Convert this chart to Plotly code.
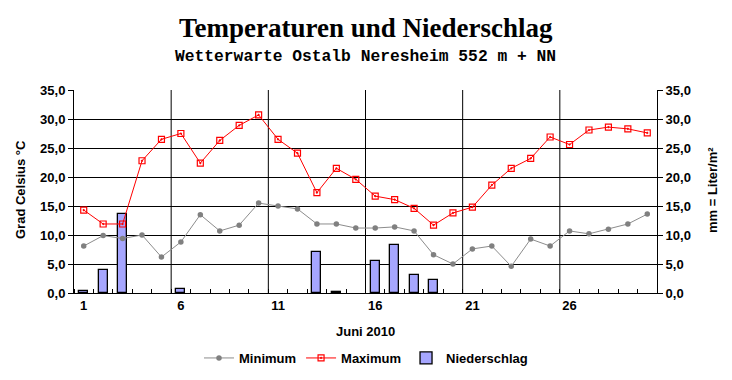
import plotly.graph_objects as go

days = list(range(1, 31))
t_min = [8.1, 9.9, 9.4, 10.0, 6.2, 8.8, 13.5, 10.7, 11.7, 15.5,
         15.0, 14.5, 11.9, 11.9, 11.2, 11.2, 11.4, 10.7, 6.6, 5.0,
         7.6, 8.1, 4.6, 9.3, 8.1, 10.7, 10.2, 11.0, 11.9, 13.6]
t_max = [14.3, 11.9, 11.9, 22.8, 26.5, 27.5, 22.4, 26.3, 28.9, 30.7,
         26.5, 24.1, 17.3, 21.5, 19.6, 16.7, 16.1, 14.6, 11.7, 13.8,
         14.8, 18.6, 21.5, 23.2, 26.9, 25.6, 28.1, 28.6, 28.3, 27.6]
rain = [0.4, 4.0, 13.6, None, None, 0.7, None, None, None, None,
        None, None, 7.1, 0.2, None, 5.5, 8.3, 3.1, 2.2, None,
        None, None, None, None, None, None, None, None, None, None]
x_ticks = [1, 6, 11, 16, 21, 26]
y_ticks = [0, 5, 10, 15, 20, 25, 30, 35]

# The page body has an 8px default margin, so the figure is 8px smaller
OFF = 8
W, H = 732 - OFF, 380 - OFF
PLOT_LEFT, PLOT_RIGHT = 74 - OFF, 657 - OFF
PLOT_TOP, PLOT_BOTTOM = 90 - OFF, 293 - OFF
PW = PLOT_RIGHT - PLOT_LEFT
PH = PLOT_BOTTOM - PLOT_TOP

tick_font = dict(family="Liberation Sans", size=13, color="black")


def py(pixel_y):
    return (PLOT_BOTTOM - (pixel_y - OFF)) / PH


def px(pixel_x):
    return ((pixel_x - OFF) - PLOT_LEFT) / PW


fig = go.Figure()
fig.add_trace(go.Bar(
    x=days, y=rain, name="<b>Niederschlag</b>", yaxis="y", width=0.46,
    marker=dict(color="white", line=dict(color="black", width=1.3),
                pattern=dict(shape=".", fgcolor="#0000ff", bgcolor="white",
                             size=2, solidity=0.7)),
    legendrank=3,
))
fig.add_trace(go.Scatter(
    x=days, y=t_min, name="<b>Minimum</b>", yaxis="y2", mode="lines+markers",
    line=dict(color="#8c8c8c", width=1),
    marker=dict(symbol="circle", size=5.5, color="#808080"),
    legendrank=1,
))
fig.add_trace(go.Scatter(
    x=days, y=t_max, name="<b>Maximum</b>", yaxis="y2", mode="lines+markers",
    line=dict(color="#ff0000", width=1),
    marker=dict(symbol="square-open-dot", size=6, color="#ff0000", line=dict(width=1.2)),
    legendrank=2,
))

shapes = [dict(type="line", xref="x", yref="paper", x0=v, x1=v, y0=0, y1=1,
               line=dict(color="black", width=1), layer="below")
          for v in [5.5, 10.5, 15.5, 20.5, 25.5]]

ytext = [f"<b>{v:.1f}</b>".replace(".", ",") for v in y_ticks]

fig.update_layout(
    width=W, height=H,
    margin=dict(l=PLOT_LEFT, r=W - PLOT_RIGHT, t=PLOT_TOP, b=H - PLOT_BOTTOM, pad=0,
                autoexpand=False),
    paper_bgcolor="white", plot_bgcolor="white",
    showlegend=True,
    bargap=0,
    xaxis=dict(range=[0.5, 30.5], tickmode="array", tickvals=x_ticks,
               ticktext=[f"<b>{v}</b>" for v in x_ticks],
               ticks="", showgrid=False, zeroline=False, automargin=False,
               showline=True, linecolor="black", linewidth=1,
               tickfont=tick_font,
               minor=dict(tickmode="array", tickvals=[0.5 + i for i in range(31)],
                          ticks="inside", ticklen=4, tickcolor="black", showgrid=False)),
    yaxis=dict(range=[0, 35], tickmode="array", tickvals=y_ticks, ticktext=ytext,
               side="right", ticks="outside", ticklen=5, tickcolor="black",
               showgrid=True, gridcolor="black", gridwidth=1, zeroline=False,
               automargin=False,
               showline=True, linecolor="black", linewidth=1, tickfont=tick_font),
    yaxis2=dict(range=[0, 35], tickmode="array", tickvals=y_ticks, ticktext=ytext,
                side="left", overlaying="y", ticks="outside", ticklen=5, tickcolor="black",
                showgrid=False, zeroline=False, automargin=False,
                showline=True, linecolor="black", linewidth=1, tickfont=tick_font),
    legend=dict(orientation="h", x=px(366), xanchor="center", y=py(358), yanchor="middle",
                font=dict(family="Liberation Sans", size=13, color="black"),
                traceorder="normal", itemwidth=30),
    shapes=shapes,
    annotations=[
        dict(text="<b>Temperaturen und Niederschlag</b>", xref="paper", yref="paper",
             x=px(366), y=py(28), xanchor="center", yanchor="middle", showarrow=False,
             font=dict(family="Liberation Serif", size=27, color="black")),
        dict(text="<b>Wetterwarte Ostalb Neresheim 552 m + NN</b>", xref="paper", yref="paper",
             x=px(365), y=py(56), xanchor="center", yanchor="middle", showarrow=False,
             font=dict(family="Liberation Mono", size=16.3, color="black")),
        dict(text="<b>Juni 2010</b>", xref="paper", yref="paper",
             x=px(365), y=py(331), xanchor="center", yanchor="middle", showarrow=False,
             font=dict(family="Liberation Sans", size=13, color="black")),
        dict(text="<b>Grad Celsius °C</b>", xref="paper", yref="paper",
             x=px(20), y=py(190), xanchor="center", yanchor="middle", showarrow=False,
             textangle=-90, font=dict(family="Liberation Sans", size=13, color="black")),
        dict(text="<b>mm = Liter/m²</b>", xref="paper", yref="paper",
             x=px(712), y=py(190), xanchor="center", yanchor="middle", showarrow=False,
             textangle=-90, font=dict(family="Liberation Sans", size=13, color="black")),
    ],
)

fig.write_html("out.html")
